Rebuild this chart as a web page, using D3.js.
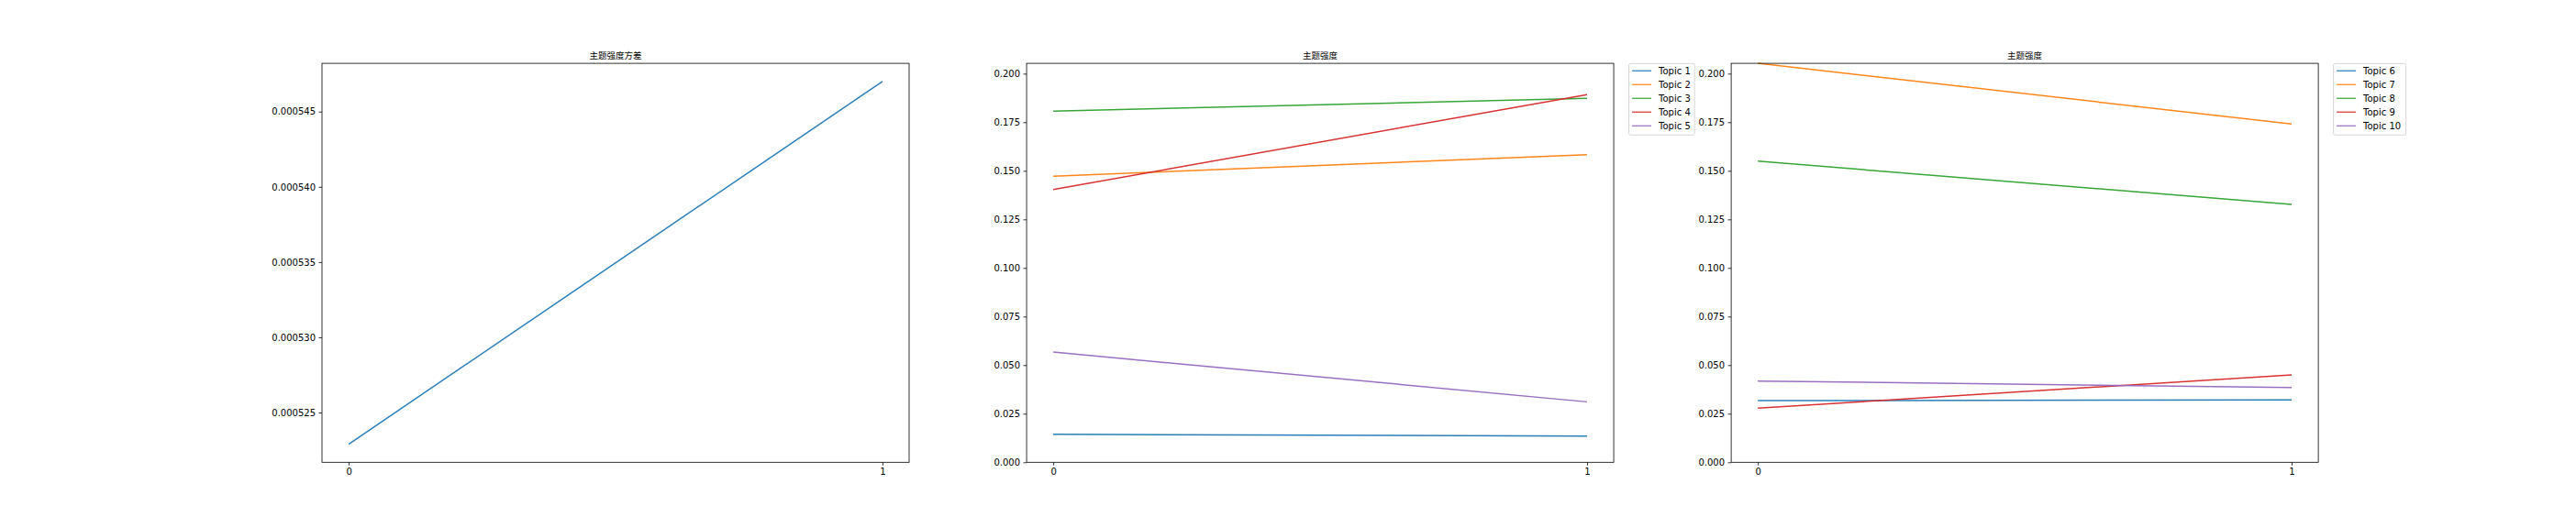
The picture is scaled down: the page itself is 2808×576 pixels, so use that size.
<!DOCTYPE html>
<html>
<head>
<meta charset="utf-8">
<script src="https://cdn.jsdelivr.net/npm/d3@7/dist/d3.min.js"></script>
<style>
  html, body { margin: 0; padding: 0; background: #fff; }
  svg { display: block; }
  .tick text { font-family: "DejaVu Sans", sans-serif; font-size: 10px; fill: #000; }
</style>
</head>
<body>
<svg id="chart" width="2808" height="576"></svg>
<script>
// ---------- data ----------
const xCategories = [0, 1];
const xTickLabels = ["0", "1"];

const varianceTitle = "主题强度方差";
const varianceValues = [0.0005229, 0.0005470];
const varianceTicks = [0.000525, 0.000530, 0.000535, 0.000540, 0.000545];

const strengthTitle = "主题强度";
const strengthTicks = [0, 0.025, 0.05, 0.075, 0.1, 0.125, 0.15, 0.175, 0.2];

const groupATopics = ["Topic 1", "Topic 2", "Topic 3", "Topic 4", "Topic 5"];
const topic1 = [0.0144, 0.0135];
const topic2 = [0.1472, 0.1583];
const topic3 = [0.1807, 0.1873];
const topic4 = [0.1404, 0.1892];
const topic5 = [0.0567, 0.0311];

const groupBTopics = ["Topic 6", "Topic 7", "Topic 8", "Topic 9", "Topic 10"];
const topic6 = [0.0317, 0.0321];
const topic7 = [0.2053, 0.1741];
const topic8 = [0.1550, 0.1327];
const topic9 = [0.0278, 0.0450];
const topic10 = [0.0418, 0.0385];

const palette = ["#1f77b4", "#ff7f0e", "#2ca02c", "#d62728", "#9467bd"];

// ---------- layout ----------
const svg = d3.select("#chart");
svg.append("rect").attr("width", 2808).attr("height", 576).attr("fill", "#fff");

const axW = 640, axTop = 69.1, axBottom = 504.3;
const axLefts = [351, 1119.06, 1887.1];

const strengthMax = d3.max([topic1, topic2, topic3, topic4, topic5,
  topic6, topic7, topic8, topic9, topic10].flat());

function drawPanel(left, title, series, names, yDomain, yTicks, yFmt, legend) {
  const g = svg.append("g");
  const x = d3.scaleLinear().domain([-0.05, 1.05]).range([left, left + axW]);
  const y = d3.scaleLinear().domain(yDomain).range([axBottom, axTop]);

  // lines
  const line = d3.line().x((d, i) => x(xCategories[i])).y(d => y(d));
  series.forEach((s, k) => {
    g.append("path")
      .datum(s)
      .attr("d", line)
      .attr("fill", "none")
      .attr("stroke", palette[k])
      .attr("stroke-opacity", 0.95)
      .attr("stroke-width", 1.5);
  });

  // axes
  const yAxis = d3.axisLeft(y).tickValues(yTicks).tickFormat(yFmt)
    .tickSize(3.5).tickPadding(3.5);
  const xAxis = d3.axisBottom(x).tickValues(xCategories)
    .tickFormat((d, i) => xTickLabels[i]).tickSize(3.5).tickPadding(3.5);

  const ya = g.append("g").attr("transform", `translate(${left},0)`).call(yAxis);
  const xa = g.append("g").attr("transform", `translate(0,${axBottom})`).call(xAxis);
  [ya, xa].forEach(a => {
    a.select(".domain").remove();
    a.selectAll(".tick line").attr("stroke", "#000").attr("stroke-width", 0.8);
  });

  // frame
  g.append("rect")
    .attr("x", left).attr("y", axTop)
    .attr("width", axW).attr("height", axBottom - axTop)
    .attr("fill", "none").attr("stroke", "#000").attr("stroke-width", 0.8);

  // title
  g.append("text")
    .attr("x", left + axW / 2).attr("y", 63.5)
    .attr("text-anchor", "middle")
    .attr("font-family", "'Noto Sans CJK SC', sans-serif")
    .attr("font-size", 9.5)
    .attr("fill", "#000")
    .text(title);

  // legend
  if (legend) {
    const lx = left + axW + 16.5, ly = 69.3;
    const lw = legend.width, lh = 78;
    const lg = g.append("g");
    lg.append("rect")
      .attr("x", lx).attr("y", ly).attr("width", lw).attr("height", lh)
      .attr("rx", 2).attr("ry", 2)
      .attr("fill", "#fff").attr("fill-opacity", 0.8)
      .attr("stroke", "#d6d6d6").attr("stroke-width", 1);
    names.forEach((n, k) => {
      const cy = ly + 8 + k * 15;
      lg.append("line")
        .attr("x1", lx + 3.5).attr("x2", lx + 24.5)
        .attr("y1", cy).attr("y2", cy)
        .attr("stroke", palette[k]).attr("stroke-opacity", 0.8)
        .attr("stroke-width", 1.5);
      lg.append("text")
        .attr("x", lx + 32.5).attr("y", cy + 3.6)
        .attr("font-family", "'DejaVu Sans', sans-serif")
        .attr("font-size", 10).attr("fill", "#000")
        .text(n);
    });
  }
}

const vMin = d3.min(varianceValues), vMax = d3.max(varianceValues);
const vPad = (vMax - vMin) * 0.05;
drawPanel(axLefts[0], varianceTitle, [varianceValues], [],
  [vMin - vPad, vMax + vPad], varianceTicks, d3.format(".6f"), null);

drawPanel(axLefts[1], strengthTitle, [topic1, topic2, topic3, topic4, topic5], groupATopics,
  [0, strengthMax], strengthTicks, d3.format(".3f"), { width: 71.6 });

drawPanel(axLefts[2], strengthTitle, [topic6, topic7, topic8, topic9, topic10], groupBTopics,
  [0, strengthMax], strengthTicks, d3.format(".3f"), { width: 79 });
</script>
</body>
</html>
